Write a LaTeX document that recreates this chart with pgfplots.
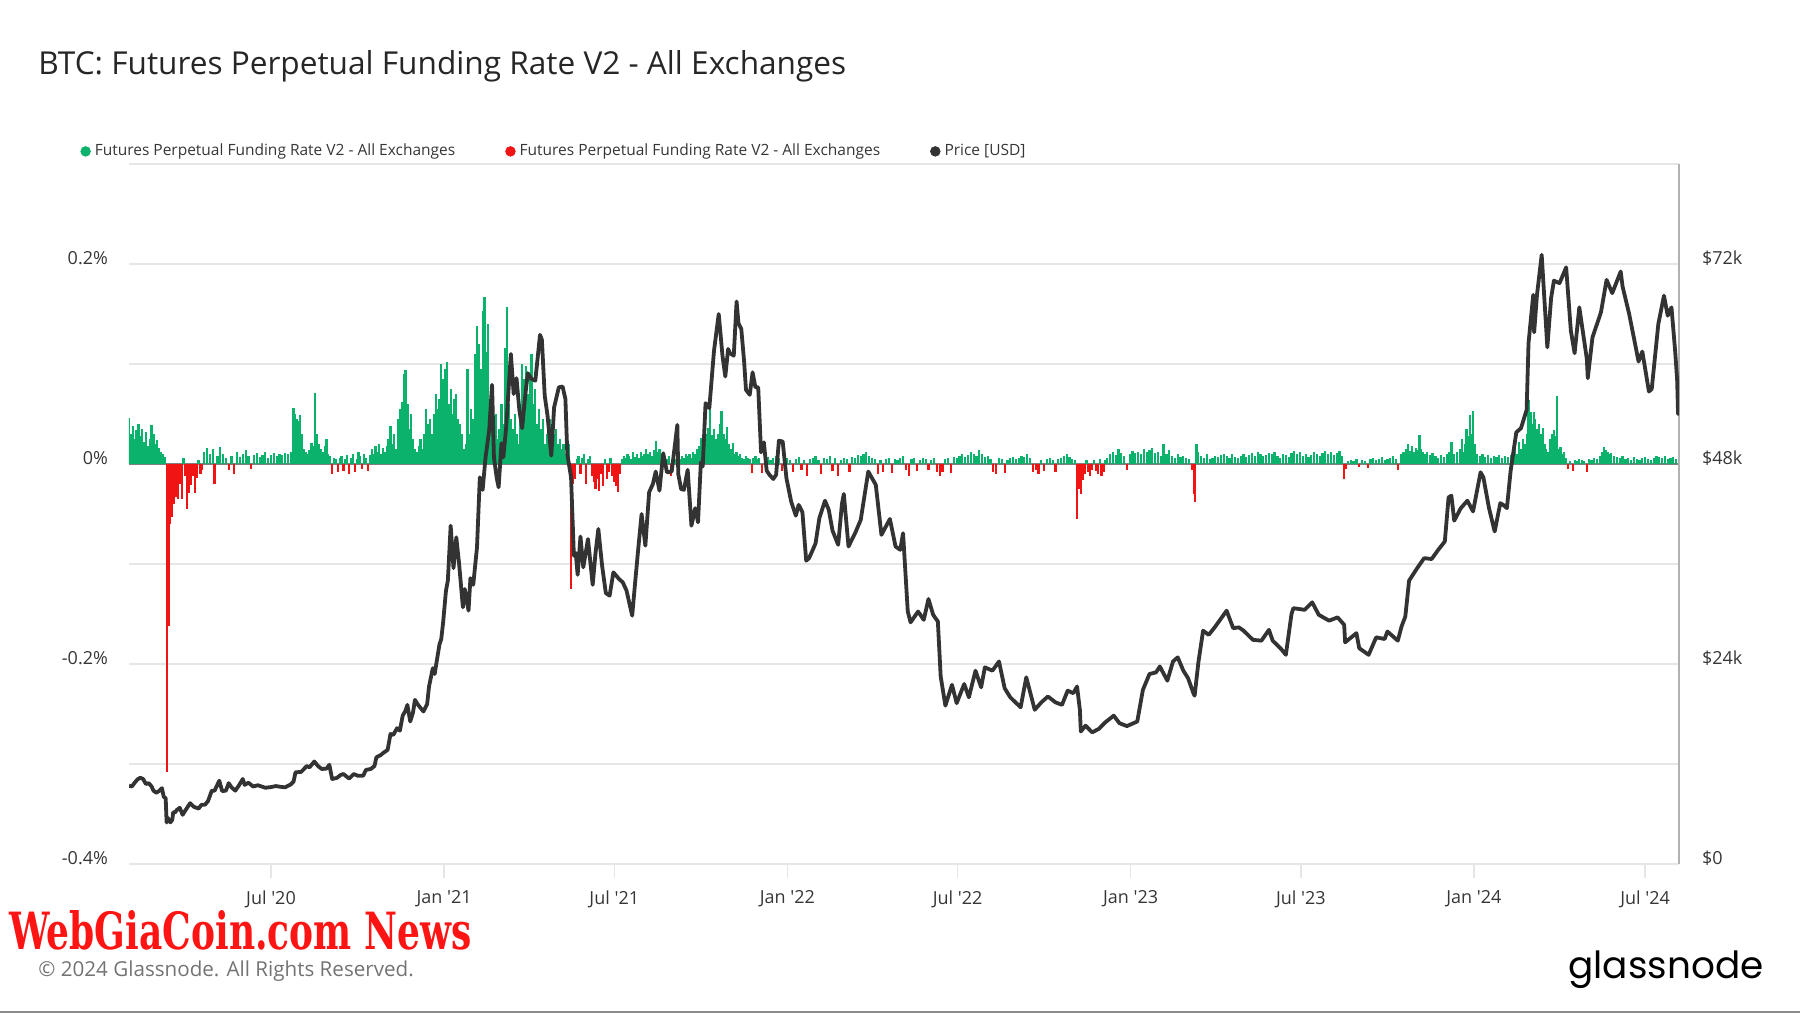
\documentclass[border=0pt]{standalone}
\usepackage{fontspec}
\setmainfont{Open Sans}
\newfontfamily\logofont{Poppins}
\newfontfamily\wmfont{DejaVu Serif}
\usepackage{pgfplots}
\pgfplotsset{compat=1.18}
\usepackage{pgfplotstable}

\definecolor{fgreen}{HTML}{0AB26B}
\definecolor{fred}{HTML}{F01414}
\definecolor{pricec}{HTML}{333333}
\definecolor{gridc}{HTML}{E6E6E6}
\definecolor{labc}{HTML}{363636}
\definecolor{wmred}{HTML}{FF1414}

\pgfplotstableread{
x f
31 0.046
33 0.030
35 0.038
37 0.025
39 0.034
41 0.040
43 0.028
45 0.035
47 0.022
49 0.032
51 0.018
53 0.025
55 0.039
57 0.030
59 0.020
61 0.024
63 0.016
65 0.012
67 0.010
69 0.007
71 -0.308
72 -0.118
73 -0.162
74 -0.053
75 -0.060
77 -0.053
79 -0.040
81 -0.033
83 -0.035
85 -0.020
87 -0.035
89 0.006
91 -0.012
93 -0.045
95 -0.029
97 -0.021
99 -0.012
101 -0.029
103 -0.014
105 0.004
107 -0.010
109 -0.006
111 0.012
114 0.016
117 0.010
120 0.015
122 -0.020
125 0.008
128 0.017
131 0.010
134 0.006
137 -0.006
140 0.008
143 -0.010
146 0.012
149 0.007
152 0.010
155 0.014
158 0.008
161 -0.005
164 0.009
167 0.011
170 0.007
173 0.009
176 0.012
179 0.006
182 0.009
185 0.011
188 0.008
191 0.010
194 0.009
197 0.011
200 0.010
203 0.012
206 0.056
207 0.050
209 0.045
211 0.043
213 0.049
215 0.030
217 0.015
219 0.012
221 0.010
223 0.014
225 0.021
227 0.018
229 0.071
231 0.030
233 0.020
235 0.015
237 0.012
239 0.018
241 0.025
243 0.010
245 0.008
247 -0.010
249 0.006
251 0.005
253 -0.008
255 0.006
257 0.008
259 -0.007
261 0.005
263 0.009
265 -0.010
267 0.006
269 0.010
271 -0.008
273 0.005
275 0.012
277 0.008
279 -0.005
281 0.010
283 0.006
285 -0.007
287 0.009
289 0.015
291 0.010
293 0.018
295 0.012
297 0.020
299 0.010
301 0.016
303 0.012
305 0.018
307 0.025
309 0.038
311 0.020
313 0.030
315 0.015
317 0.045
319 0.055
321 0.062
323 0.090
325 0.094
327 0.060
329 0.035
331 0.050
333 0.025
335 0.015
337 0.012
339 0.018
341 0.025
343 0.015
345 0.030
347 0.055
349 0.040
351 0.045
353 0.030
355 0.050
357 0.070
359 0.055
361 0.065
363 0.100
365 0.085
367 0.095
369 0.102
371 0.060
373 0.075
375 0.050
377 0.065
379 0.070
381 0.045
383 0.040
385 0.030
387 0.015
389 0.020
391 0.095
393 0.030
395 0.055
397 0.045
399 0.110
401 0.138
403 0.120
405 0.095
407 0.153
409 0.167
411 0.112
413 0.140
415 0.060
417 0.040
419 0.030
421 0.050
423 0.025
425 0.035
427 0.060
429 0.040
431 0.116
433 0.157
435 0.060
437 0.045
439 0.035
441 0.050
443 0.030
445 0.020
447 0.045
449 0.100
451 0.085
453 0.098
455 0.070
457 0.090
459 0.110
461 0.060
463 0.075
465 0.040
467 0.055
469 0.035
471 0.045
473 0.020
475 0.030
477 0.040
479 0.045
481 0.038
483 0.030
485 0.035
487 0.020
489 0.025
491 0.015
493 0.020
495 0.010
497 0.012
499 0.020
501 -0.125
502 -0.060
503 -0.020
505 -0.015
507 0.005
509 0.008
511 -0.010
513 0.006
515 0.010
517 -0.020
519 0.005
521 0.008
523 -0.012
525 -0.018
527 -0.025
529 -0.015
531 -0.027
533 -0.010
535 -0.022
537 0.005
539 -0.015
541 -0.008
543 0.006
545 -0.012
547 -0.018
549 -0.022
551 -0.028
553 -0.010
555 0.005
557 0.008
559 0.006
561 0.010
563 0.008
565 0.005
567 0.012
569 0.007
571 0.010
573 0.006
575 0.012
577 0.008
579 0.010
581 0.015
583 0.010
585 0.012
587 0.008
589 0.014
591 0.023
593 0.012
595 0.015
597 0.010
599 0.012
601 0.008
603 0.005
605 0.008
607 -0.012
609 0.006
611 0.005
613 0.004
615 0.006
617 0.005
619 0.008
621 0.006
623 0.010
625 0.008
627 0.010
629 0.006
631 0.012
633 0.010
635 0.015
637 0.018
639 0.026
641 0.020
643 0.036
645 0.030
647 0.036
649 0.058
651 0.029
653 0.035
655 0.025
657 0.030
659 0.040
661 0.053
663 0.030
665 0.025
667 0.037
669 0.020
671 0.015
673 0.021
675 0.010
677 0.012
679 0.008
681 0.010
683 0.006
685 0.005
687 0.008
689 0.006
691 0.005
693 -0.009
695 0.006
697 0.008
699 0.005
701 0.006
704 -0.009
707 0.005
710 0.007
713 0.004
716 0.006
719 0.008
722 0.006
725 -0.007
728 0.005
731 0.006
734 0.004
737 -0.008
740 0.005
743 0.007
746 -0.006
749 0.004
752 -0.012
755 0.005
758 0.006
761 0.008
764 0.004
767 -0.010
770 0.006
773 0.005
776 0.008
779 -0.007
782 0.006
785 -0.012
788 0.004
791 0.006
794 0.005
797 -0.008
800 0.007
803 0.006
806 0.009
809 0.008
812 0.010
815 0.012
818 0.008
821 0.006
824 0.005
827 -0.010
830 0.004
833 -0.008
836 0.005
839 0.006
842 -0.009
845 0.005
848 0.004
851 0.006
854 0.008
857 -0.006
860 -0.012
863 0.005
866 0.006
869 -0.007
872 0.004
875 0.006
878 0.005
881 -0.006
884 0.004
887 0.006
890 -0.008
893 -0.012
896 -0.008
899 0.005
902 0.006
905 -0.009
908 0.007
911 0.006
914 0.008
917 0.010
920 0.007
923 0.009
926 0.012
929 0.010
932 0.008
935 0.014
938 0.010
941 0.007
944 0.008
947 0.005
950 -0.008
953 -0.010
956 0.006
959 0.005
962 -0.009
965 0.004
968 0.006
971 0.007
974 0.005
977 0.006
980 0.008
983 0.007
986 0.010
989 0.006
992 -0.008
995 -0.006
998 -0.010
1001 0.004
1004 -0.007
1007 0.005
1010 0.006
1013 0.004
1016 -0.008
1019 0.005
1022 0.006
1025 0.008
1028 0.010
1031 0.007
1034 0.005
1037 0.004
1039 -0.055
1040 -0.020
1041 -0.025
1042 -0.018
1043 -0.030
1045 -0.016
1047 -0.010
1049 0.004
1051 -0.008
1053 -0.012
1055 -0.006
1057 0.004
1059 -0.007
1061 -0.010
1063 0.005
1065 -0.012
1067 -0.008
1069 0.004
1071 0.006
1074 0.010
1077 0.012
1080 0.009
1083 0.015
1086 0.011
1089 0.008
1092 -0.006
1095 0.010
1098 0.013
1101 0.011
1104 0.012
1107 0.010
1110 0.015
1113 0.012
1116 0.014
1119 0.016
1122 0.011
1125 0.012
1128 0.008
1131 0.020
1134 0.010
1137 0.014
1140 0.008
1143 0.006
1146 0.010
1149 0.007
1152 0.008
1155 0.006
1158 0.005
1161 -0.006
1163 -0.030
1164 -0.038
1166 0.020
1168 0.012
1171 0.008
1174 0.006
1177 0.010
1180 0.005
1183 0.006
1186 0.008
1189 0.007
1192 0.009
1195 0.010
1198 0.008
1201 0.006
1204 0.010
1207 0.007
1210 0.006
1213 0.008
1216 0.010
1219 0.007
1222 0.009
1225 0.011
1228 0.008
1231 0.012
1234 0.010
1237 0.008
1240 0.009
1243 0.011
1246 0.010
1249 0.012
1252 0.008
1255 0.006
1258 0.010
1261 0.009
1264 0.007
1267 0.011
1270 0.013
1273 0.010
1276 0.012
1279 0.008
1282 0.010
1285 0.007
1288 0.009
1291 0.012
1294 0.010
1297 0.008
1300 0.011
1303 0.013
1306 0.010
1309 0.012
1312 0.009
1315 0.011
1318 0.013
1321 0.008
1323 -0.015
1325 -0.005
1327 0.003
1330 0.004
1333 0.003
1336 0.005
1339 -0.003
1342 0.004
1345 0.003
1348 -0.004
1351 0.005
1354 0.006
1357 0.004
1360 0.005
1363 0.007
1366 0.004
1369 0.005
1372 0.006
1375 0.008
1378 0.005
1380 -0.006
1383 0.010
1386 0.012
1389 0.015
1391 0.020
1393 0.013
1395 0.018
1397 0.012
1399 0.016
1401 0.014
1403 0.029
1405 0.015
1407 0.012
1409 0.010
1411 0.012
1414 0.009
1417 0.011
1420 0.008
1423 0.006
1426 0.009
1429 0.007
1432 0.010
1435 0.012
1437 0.022
1440 0.010
1443 0.012
1446 0.015
1448 0.025
1450 0.012
1452 0.020
1453 0.035
1455 0.028
1457 0.049
1459 0.030
1460 0.053
1462 0.020
1464 0.010
1467 0.008
1470 0.010
1473 0.007
1476 0.009
1479 0.006
1482 0.008
1485 0.007
1488 0.009
1491 0.006
1494 0.008
1497 0.007
1500 0.009
1503 0.012
1505 0.018
1507 0.010
1509 0.022
1511 0.015
1513 0.025
1515 0.020
1517 0.030
1519 0.064
1520 0.035
1521 0.052
1523 0.040
1525 0.052
1526 0.045
1528 0.035
1530 0.040
1532 0.030
1534 0.036
1536 0.020
1538 0.015
1540 0.012
1542 0.025
1544 0.030
1546 0.034
1547 0.028
1549 0.068
1551 0.015
1553 0.017
1555 0.010
1557 0.012
1559 0.006
1561 -0.005
1563 0.003
1566 -0.007
1568 0.004
1570 0.003
1573 0.005
1576 0.004
1578 0.003
1581 -0.008
1583 0.005
1586 0.004
1589 0.006
1592 0.005
1595 0.008
1597 0.012
1599 0.017
1601 0.014
1603 0.012
1605 0.010
1607 0.011
1610 0.008
1613 0.007
1616 0.006
1619 0.008
1622 0.005
1625 0.006
1628 0.004
1631 0.007
1634 0.005
1637 0.004
1640 0.006
1643 0.007
1646 0.005
1649 0.004
1652 0.006
1655 0.008
1658 0.007
1661 0.006
1664 0.008
1667 0.005
1670 0.006
1673 0.007
1676 0.005
1679 0.006
}\fundtable

\pgfplotstableread{
x p
31 9390
34 9300
37 9750
40 10150
43 10350
46 10200
49 9600
52 9700
55 9300
57 8800
60 8550
63 8760
66 9100
68 8050
70 7900
71 4970
72 5560
75 5000
77 5300
78 6200
80 6200
82 6500
85 6750
88 5900
91 6440
96 7300
100 6860
105 6650
108 7100
112 7130
115 7550
119 8800
122 8800
127 10000
130 8750
134 8800
137 9700
140 9200
144 8800
148 9450
152 10200
154 9500
158 9750
163 9300
168 9450
172 9300
176 9150
182 9230
187 9350
193 9250
197 9200
203 9550
206 9900
208 11000
214 11050
220 11750
223 11600
228 12300
232 11750
236 11400
241 11450
244 11900
247 10200
252 10330
256 10680
259 10800
265 10250
270 10800
274 10600
280 10600
283 11300
288 11400
292 11750
294 12800
299 13100
301 13300
306 13700
309 15600
312 15500
316 16300
319 16000
322 17800
325 18400
327 19100
330 17100
333 18200
335 19700
338 19150
344 18300
348 19200
350 21300
354 23500
356 22800
361 26300
363 27000
365 29000
368 32800
370 34000
373 40600
376 35500
379 39200
382 36000
386 30800
388 33000
392 30400
394 34300
397 33500
401 38000
404 46400
407 44900
410 48700
414 52100
417 57500
419 48800
422 46300
424 45200
427 50500
429 48800
432 52400
437 61200
440 56400
443 58300
446 54500
449 52300
452 55900
455 58900
459 58200
463 58000
468 63500
470 62900
473 56200
476 53800
480 49000
483 54800
488 57200
492 57300
495 55800
497 49200
501 46400
504 37000
506 37300
508 34700
511 39300
514 35600
519 39000
524 33500
527 37300
530 40200
534 35800
538 32500
542 32200
546 35000
549 34600
552 34200
556 33800
560 32800
566 29800
569 33600
572 37300
576 42000
580 38200
584 44600
588 45600
591 47100
595 44800
599 49300
603 47000
608 47100
611 49900
614 52700
615 46800
618 45000
621 44900
625 47300
629 40600
633 42700
636 41000
639 48200
641 47700
644 55300
648 54700
653 61600
658 66000
662 61000
665 58500
668 61800
670 61300
674 61000
677 67500
679 64900
682 64200
685 60300
687 56900
691 56300
694 59000
697 57200
700 57200
703 49400
706 50600
709 47200
712 46700
716 46200
719 46700
722 50800
726 50700
730 46300
735 43500
740 41800
743 43100
747 42200
751 36400
754 36700
758 37700
761 38500
765 41500
771 43600
775 42500
779 40000
785 38300
789 43200
791 44400
796 38100
803 39700
809 41300
817 47100
821 46300
825 45500
831 39500
840 41400
846 38100
851 37700
854 39700
859 30300
862 29000
870 30300
876 29300
881 31800
886 29900
891 29100
894 22500
899 19000
906 21500
911 19300
919 21600
924 20000
931 23200
937 21200
941 23600
949 23200
956 24300
962 21100
968 20000
979 18800
985 22400
994 18500
1001 19400
1008 20100
1016 19400
1023 19100
1029 20800
1035 20500
1039 21300
1042 18500
1043 15900
1048 16600
1055 15800
1062 16200
1069 17000
1078 17800
1084 16900
1092 16550
1103 17100
1109 20900
1116 22800
1123 23000
1127 23700
1135 22000
1141 24300
1146 24800
1152 23200
1157 22300
1163 20400
1164 20200
1168 24200
1173 28000
1179 27500
1186 28500
1198 30400
1205 28300
1211 28400
1216 28000
1226 26900
1235 26800
1243 28100
1247 26800
1256 25800
1261 25100
1267 30000
1269 30700
1281 30500
1289 31400
1296 29900
1307 29200
1316 29600
1323 28700
1324 26600
1336 27700
1339 25900
1349 25100
1357 27200
1366 27000
1369 27900
1380 26800
1384 28500
1388 29700
1392 34000
1400 35400
1408 36700
1416 36600
1423 37700
1430 38700
1434 44000
1437 44200
1440 41200
1447 42700
1454 43600
1460 42300
1468 47000
1471 46400
1477 42700
1483 39900
1489 43300
1492 43100
1496 42700
1500 47200
1506 51800
1511 52300
1517 54500
1519 62500
1524 68300
1525 63800
1528 68300
1533 73100
1539 62000
1543 67900
1546 70000
1552 69700
1559 71600
1564 64000
1568 61300
1573 66800
1581 60600
1582 58300
1587 63200
1596 66200
1602 70100
1608 68500
1617 71100
1619 69300
1626 66000
1636 60300
1640 61500
1647 56700
1650 57000
1657 64800
1663 68200
1667 65800
1671 66800
1675 61400
1677 58100
1678 54000
1679 56000
}\pricetable

\begin{document}
\begin{tikzpicture}
\path[use as bounding box] (0,0) rectangle (900pt,506.5pt);

\begin{axis}[
  at={(64.5pt,74.5pt)}, anchor=south west,
  scale only axis, width=775pt, height=350pt,
  xmin=31, xmax=1679, ymin=-0.4, ymax=0.3,
  axis line style={draw=none},
  ytick={-0.4,-0.3,-0.2,-0.1,0,0.1,0.2,0.3},
  yticklabels={-0.4\%,{},-0.2\%,{},0\%,{},0.2\%,{}},
  ymajorgrids, grid style={gridc, line width=0.8pt},
  y tick style={draw=none},
  xtick={182,366,547,731,912,1096,1277,1461,1643},
  xticklabels={Jul \textquotesingle20,Jan \textquotesingle21,Jul \textquotesingle21,Jan \textquotesingle22,Jul \textquotesingle22,Jan \textquotesingle23,Jul \textquotesingle23,Jan \textquotesingle24,Jul \textquotesingle24},
  xtick pos=bottom, ytick pos=left, tick align=outside, major tick length=7pt,
  x tick style={gridc, line width=0.8pt},
  ticklabel style={font=\fontsize{9}{10}\selectfont, text=labc},
  yticklabel style={yshift=3pt},
  xticklabel style={yshift=-5pt, inner sep=1pt},
  legend style={at={(axis description cs:-0.0316,1.018)}, anchor=west, draw=none, fill=none,
    inner sep=0pt, font=\fontsize{7.75}{8.5}\selectfont, text=labc,
    /tikz/every even column/.append style={column sep=23pt}},
  legend columns=3, legend cell align=left,
]
\addlegendimage{legend image code/.code={\fill[fgreen] (0.1em,0pt) circle (2.4pt);}}
\addlegendentry{Futures Perpetual Funding Rate V2 - All Exchanges}
\addlegendimage{legend image code/.code={\fill[fred] (0.1em,0pt) circle (2.4pt);}}
\addlegendentry{Futures Perpetual Funding Rate V2 - All Exchanges}
\addlegendimage{legend image code/.code={\fill[pricec] (0.1em,0pt) circle (2.4pt);}}
\addlegendentry{Price [USD]}

\addplot[forget plot, color=black!50, line width=0.9pt] coordinates {(31,0) (1679,0)};
\addplot[forget plot, ycomb, fgreen, line width=1.1pt, restrict y to domain=0:1, unbounded coords=discard] table[x=x, y=f] {\fundtable};
\addplot[forget plot, ycomb, fred, line width=1.1pt, restrict y to domain=-1:0, unbounded coords=discard] table[x=x, y=f] {\fundtable};
\end{axis}

\begin{axis}[
  at={(64.5pt,74.5pt)}, anchor=south west,
  scale only axis, width=775pt, height=350pt,
  xmin=31, xmax=1679, ymin=0, ymax=84000,
  axis x line=none, axis y line*=right,
  y axis line style={draw=black!30, line width=1pt},
  ytick={0,24000,48000,72000},
  yticklabels={\$0,\$24k,\$48k,\$72k},
  y tick style={draw=none}, major tick length=0pt,
  scaled y ticks=false,
  yticklabel style={font=\fontsize{9}{10}\selectfont, text=labc, yshift=3pt, xshift=8pt},
]
\addplot[pricec, line width=1.9pt, line join=round] table[x=x, y=p] {\pricetable};
\end{axis}

\node[anchor=west, inner sep=0pt, font=\fontsize{15.8}{17}\selectfont, text=black!85] at (19pt,473.5pt) {BTC: Futures Perpetual Funding Rate V2 - All Exchanges};
\node[anchor=west, inner sep=0pt] at (4.5pt,41.5pt) {\resizebox{231pt}{19.5pt}{\color{wmred}\wmfont\bfseries WebGiaCoin.com News}};
\node[anchor=west, inner sep=0pt, font=\fontsize{10.3}{12}\selectfont, text=black!55] at (19pt,21pt) {© 2024 Glassnode. All Rights Reserved.};
\node[anchor=base east, inner sep=0pt, font=\logofont\fontsize{18.7}{20}\selectfont, text=black] at (882pt,17.5pt) {glassnode};
\draw[black!45, line width=1.2pt] (0,0.6pt) -- (900pt,0.6pt);
\end{tikzpicture}
\end{document}
